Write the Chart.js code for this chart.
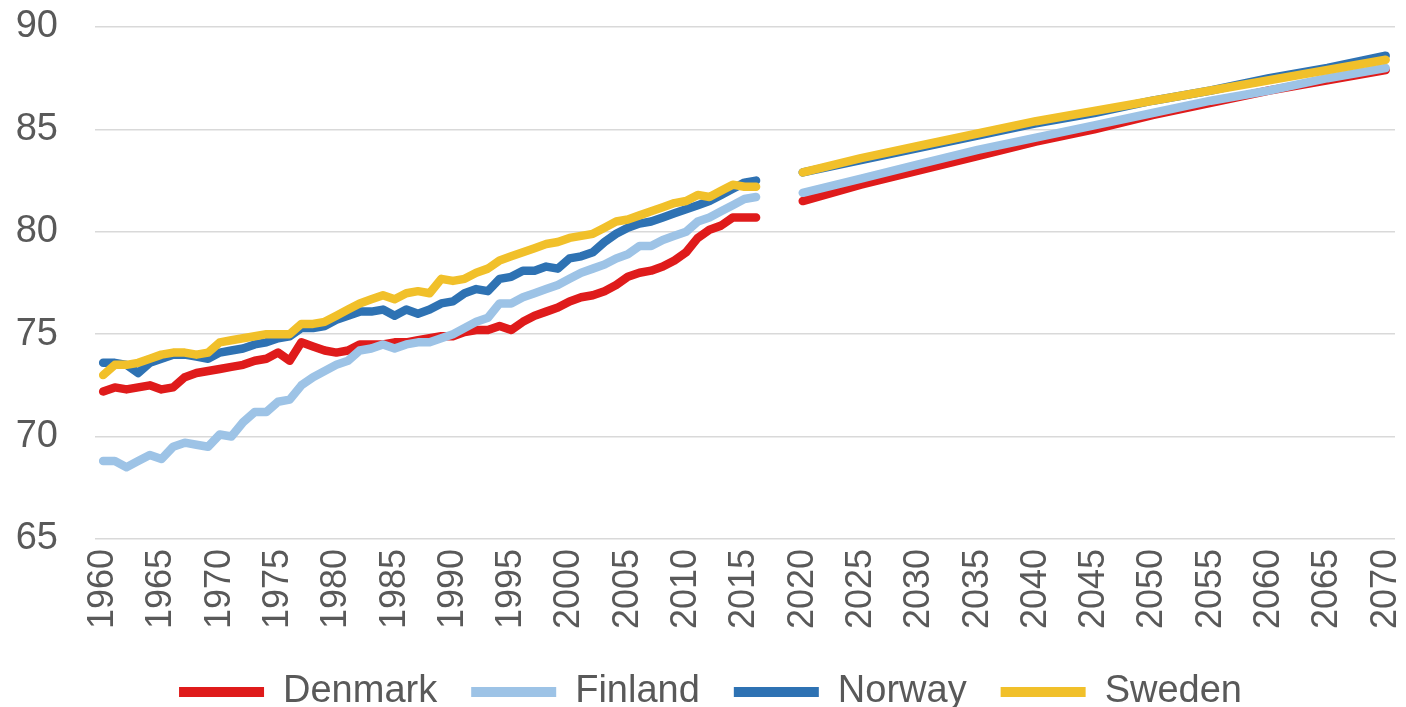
<!DOCTYPE html>
<html>
<head>
<meta charset="utf-8">
<script src="https://cdn.jsdelivr.net/npm/chart.js@4.4.1/dist/chart.umd.min.js"></script>
<style>
  html, body { margin: 0; padding: 0; background: #fff; }
  #wrap { width: 1406px; height: 707px; position: relative; }
</style>
</head>
<body>
<div id="wrap"><canvas id="chart"></canvas></div>
<script>
// Observed years 1960-2016, projections 2020-2070
const histYears = []
for (let y = 1960; y <= 2016; y++) histYears.push(y)
const projYears = [2020, 2025, 2030, 2035, 2040, 2045, 2050, 2055, 2060, 2065, 2070]
const xTicks = [1960, 1965, 1970, 1975, 1980, 1985, 1990, 1995, 2000, 2005, 2010, 2015,
  2020, 2025, 2030, 2035, 2040, 2045, 2050, 2055, 2060, 2065, 2070]
const yTicks = [65, 70, 75, 80, 85, 90]

const denmarkHist = [
  72.2, 72.4, 72.3, 72.4, 72.5, 72.3, 72.4, 72.9, 73.1, 73.2,
  73.3, 73.4, 73.5, 73.7, 73.8, 74.1, 73.7, 74.6, 74.4, 74.2,
  74.1, 74.2, 74.5, 74.5, 74.5, 74.6, 74.6, 74.7, 74.8, 74.9,
  74.9, 75.1, 75.2, 75.2, 75.4, 75.2, 75.6, 75.9, 76.1, 76.3,
  76.6, 76.8, 76.9, 77.1, 77.4, 77.8, 78.0, 78.1, 78.3, 78.6,
  79.0, 79.7, 80.1, 80.3, 80.7, 80.7, 80.7
]
const finlandHist = [
  68.8, 68.8, 68.5, 68.8, 69.1, 68.9, 69.5, 69.7, 69.6, 69.5,
  70.1, 70.0, 70.7, 71.2, 71.2, 71.7, 71.8, 72.5, 72.9, 73.2,
  73.5, 73.7, 74.2, 74.3, 74.5, 74.3, 74.5, 74.6, 74.6, 74.8,
  75.0, 75.3, 75.6, 75.8, 76.5, 76.5, 76.8, 77.0, 77.2, 77.4,
  77.7, 78.0, 78.2, 78.4, 78.7, 78.9, 79.3, 79.3, 79.6, 79.8,
  80.0, 80.5, 80.7, 81.0, 81.3, 81.6, 81.7
]
const norwayHist = [
  73.6, 73.6, 73.5, 73.1, 73.6, 73.8, 74.0, 74.0, 73.9, 73.8,
  74.1, 74.2, 74.3, 74.5, 74.6, 74.8, 74.9, 75.3, 75.3, 75.4,
  75.7, 75.9, 76.1, 76.1, 76.2, 75.9, 76.2, 76.0, 76.2, 76.5,
  76.6, 77.0, 77.2, 77.1, 77.7, 77.8, 78.1, 78.1, 78.3, 78.2,
  78.7, 78.8, 79.0, 79.5, 79.9, 80.2, 80.4, 80.5, 80.7, 80.9,
  81.1, 81.3, 81.5, 81.8, 82.1, 82.4, 82.5
]
const swedenHist = [
  73.0, 73.5, 73.5, 73.6, 73.8, 74.0, 74.1, 74.1, 74.0, 74.1,
  74.6, 74.7, 74.8, 74.9, 75.0, 75.0, 75.0, 75.5, 75.5, 75.6,
  75.9, 76.2, 76.5, 76.7, 76.9, 76.7, 77.0, 77.1, 77.0, 77.7,
  77.6, 77.7, 78.0, 78.2, 78.6, 78.8, 79.0, 79.2, 79.4, 79.5,
  79.7, 79.8, 79.9, 80.2, 80.5, 80.6, 80.8, 81.0, 81.2, 81.4,
  81.5, 81.8, 81.7, 82.0, 82.3, 82.2, 82.2
]

const denmarkProj = [81.5, 82.3, 83.0, 83.7, 84.4, 85.0, 85.7, 86.3, 86.9, 87.4, 87.9]
const finlandProj = [81.9, 82.6, 83.3, 84.0, 84.6, 85.2, 85.8, 86.4, 86.9, 87.5, 88.0]
const norwayProj  = [82.9, 83.5, 84.1, 84.7, 85.3, 85.8, 86.4, 86.9, 87.5, 88.0, 88.6]
const swedenProj  = [82.9, 83.6, 84.2, 84.8, 85.4, 85.9, 86.4, 86.9, 87.4, 87.9, 88.4]

// join observed and projected parts with a null in between so the line breaks
function toPoints(hist, proj) {
  const pts = hist.map((v, i) => ({x: histYears[i], y: v}))
  pts.push({x: 2018, y: null})
  proj.forEach((v, i) => pts.push({x: projYears[i], y: v}))
  return pts
}

function series(label, hist, proj, color, order) {
  return {
    label: label,
    data: toPoints(hist, proj),
    borderColor: color,
    backgroundColor: color,
    borderWidth: 8.5,
    borderCapStyle: 'round',
    borderJoinStyle: 'round',
    pointRadius: 0,
    pointHoverRadius: 0,
    tension: 0,
    spanGaps: false,
    order: order
  }
}

const textColor = '#595959'
const font = 'Liberation Sans, Arial, sans-serif'

new Chart(document.getElementById('chart'), {
  type: 'line',
  data: {
    datasets: [
      series('Denmark', denmarkHist, denmarkProj, '#df1b1b', 3),
      series('Finland', finlandHist, finlandProj, '#9dc3e6', 2),
      series('Norway', norwayHist, norwayProj, '#2e72b3', 1),
      series('Sweden', swedenHist, swedenProj, '#f1c02a', 0)
    ]
  },
  options: {
    responsive: true,
    maintainAspectRatio: false,
    animation: false,
    layout: {
      padding: {top: 0, right: 0, left: 15, bottom: -14}
    },
    plugins: {
      tooltip: {enabled: false},
      legend: {
        position: 'bottom',
        labels: {
          boxWidth: 85,
          boxHeight: 10,
          padding: 34,
          color: textColor,
          font: {family: font, size: 38},
          sort: (a, b) => a.datasetIndex - b.datasetIndex,
          generateLabels: chart => {
            const items = Chart.defaults.plugins.legend.labels.generateLabels(chart)
            items.forEach(it => { it.lineWidth = 0 })
            return items
          }
        }
      }
    },
    scales: {
      x: {
        type: 'linear',
        min: 1959.3,
        max: 2070.8,
        afterBuildTicks: axis => { axis.ticks = xTicks.map(v => ({value: v})) },
        afterFit: s => { s.paddingLeft = 0; s.paddingRight = 11 },
        grid: {display: false, drawTicks: false},
        border: {display: false},
        ticks: {
          autoSkip: false,
          maxRotation: 90,
          minRotation: 90,
          padding: 10,
          color: textColor,
          font: {family: font, size: 36},
          callback: v => String(v)
        }
      },
      y: {
        min: 65,
        max: 90,
        afterBuildTicks: axis => { axis.ticks = yTicks.map(v => ({value: v})) },
        afterFit: s => { s.width = 80; s.paddingTop = 27; s.paddingBottom = 0 },
        grid: {color: '#d9d9d9', lineWidth: 1.5, drawTicks: false},
        border: {display: false},
        ticks: {
          padding: 37,
          color: textColor,
          font: {family: font, size: 38}
        }
      }
    }
  }
})
</script>
</body>
</html>
